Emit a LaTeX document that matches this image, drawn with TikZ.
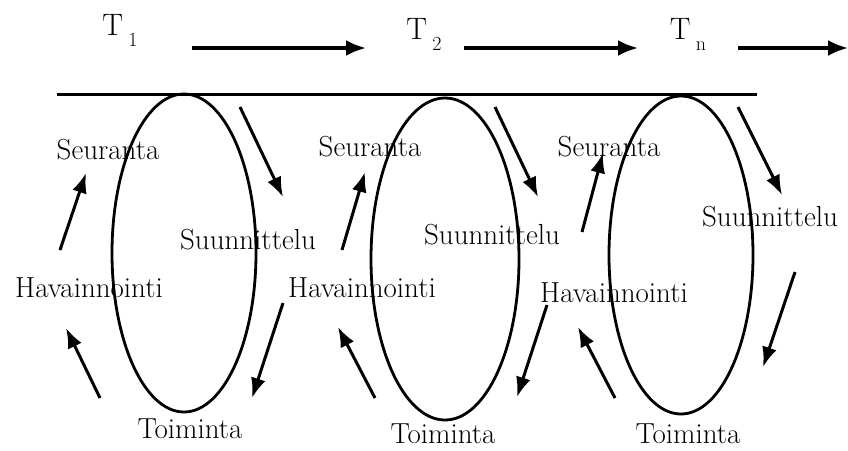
\documentclass[tikz,border=0pt]{standalone}
\usetikzlibrary{arrows.meta, shapes.geometric}

\begin{document}
\begin{tikzpicture}[x=1pt, y=-1pt,
    phase/.style={font=\fontsize{29}{33}\selectfont, inner sep=0pt},
    cycle/.style={draw, ellipse, line width=2.8pt, inner sep=0pt,
      minimum width=144pt, minimum height=318pt},
    turn/.style={-{Latex[length=20pt,width=15pt]}, line width=3pt},
    timeline/.style={-{Latex[length=20pt,width=16pt]}, line width=3.2pt}]
  \useasboundingbox (0,0) rectangle (848,450);
  \newcommand{\tsub}[1]{\,\raisebox{-11pt}{\fontsize{20}{24}\selectfont #1}}

  % Time points and arrows along the top
  \node[phase, font=\fontsize{31}{35}\selectfont] (t1) at (120,30) {T\tsub{1}};
  \node[phase, font=\fontsize{31}{35}\selectfont] (t2) at (424,34) {T\tsub{2}};
  \node[phase, font=\fontsize{31}{35}\selectfont] (tn) at (688,34) {T\tsub{n}};
  \coordinate (r1s) at (192,48); \coordinate (r1e) at (366,48);
  \coordinate (r2s) at (464,48); \coordinate (r2e) at (638,48);
  \coordinate (r3s) at (738,48); \coordinate (r3e) at (848,48);
  \draw[timeline] (r1s) -- (r1e);
  \draw[timeline] (r2s) -- (r2e);
  \draw[timeline] (r3s) -- (r3e);

  % Base line the cycles hang from
  \coordinate (bl) at (57,94); \coordinate (br) at (757,94);
  \draw[line width=3pt] (bl) -- (br);

  % The three cycles
  \node[cycle] (c1) at (184,253) {};
  \node[cycle, minimum height=322pt, minimum width=148pt] (c2) at (445,259) {};
  \node[cycle] (c3) at (681,255) {};

  % Cycle 1 labels
  \node[phase] (s1) at (108,150) {Seuranta};
  \node[phase] (u1) at (248,240) {Suunnittelu};
  \node[phase] (h1) at (89,288) {Havainnointi};
  \node[phase] (o1) at (190,429) {Toiminta};
  % Cycle 2 labels
  \node[phase] (s2) at (370,147) {Seuranta};
  \node[phase] (u2) at (492,235) {Suunnittelu};
  \node[phase] (h2) at (362,288) {Havainnointi};
  \node[phase] (o2) at (443,434) {Toiminta};
  % Cycle n labels
  \node[phase] (s3) at (609,147) {Seuranta};
  \node[phase] (u3) at (770,217) {Suunnittelu};
  \node[phase] (h3) at (614,293) {Havainnointi};
  \node[phase] (o3) at (688,434) {Toiminta};

  % Arrows turning round each cycle
  \foreach \k/\sx/\sy/\ex/\ey in {
      a1/100/398/66/328, b1/60/250/86/173, c1/240/107/283/197, d1/283/303/252/398,
      a2/375/398/338/327, b2/342/250/365/172, c2/495/107/538/197, d2/547/305/517/397,
      a3/615/398/578/327, b3/582/232/603/153, c3/738/107/782/195, d3/795/272/763/367}
  {
    \coordinate (\k s) at (\sx,\sy);
    \coordinate (\k e) at (\ex,\ey);
    \draw[turn] (\k s) -- (\k e);
  }
\end{tikzpicture}
\end{document}
